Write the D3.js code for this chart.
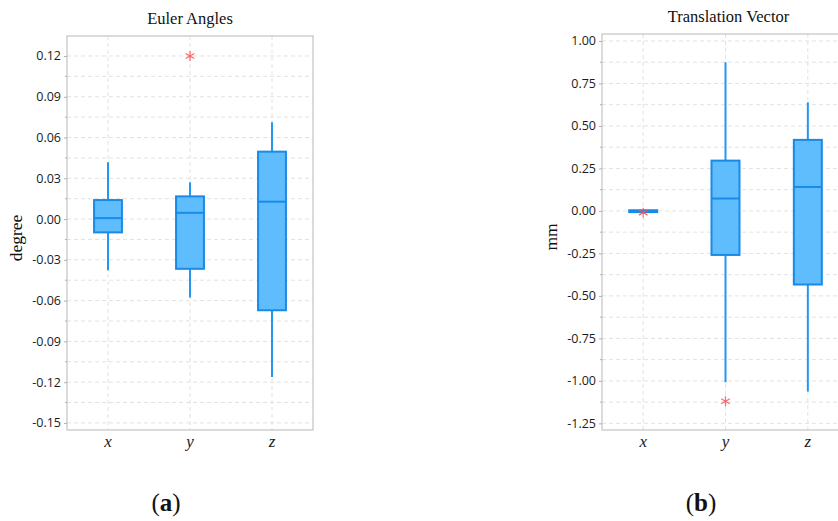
<!DOCTYPE html>
<html>
<head>
<meta charset="utf-8">
<script src="https://cdn.jsdelivr.net/npm/d3@7"></script>
<style>
  body { margin: 0; background: #fff; }
  svg { display: block; }
</style>
</head>
<body>
<svg id="chart" width="838" height="521"></svg>
<script>
// categories on both panels
const categories = ["x", "y", "z"];

// (a) Euler angles, degree
const eulerMin = [-0.0376, -0.0577, -0.1162];
const eulerQ1 = [-0.0098, -0.0366, -0.0671];
const eulerMedian = [0.0007, 0.0046, 0.0128];
const eulerQ3 = [0.0140, 0.0167, 0.0496];
const eulerMax = [0.0418, 0.0270, 0.0713];
const eulerOutliers = [[], [0.120], []];
const eulerTicks = [-0.15, -0.12, -0.09, -0.06, -0.03, 0.00, 0.03, 0.06, 0.09, 0.12];

// (b) translation vector, mm
const transMin = [-0.008, -1.008, -1.063];
const transQ1 = [-0.007, -0.259, -0.433];
const transMedian = [-0.002, 0.073, 0.141];
const transQ3 = [0.004, 0.296, 0.418];
const transMax = [0.006, 0.875, 0.639];
const transOutliers = [[-0.010], [-1.120], []];
const transTicks = [-1.25, -1.00, -0.75, -0.50, -0.25, 0.00, 0.25, 0.50, 0.75, 1.00];

const svg = d3.select("#chart");

const fmt = d => d3.format(".2f")(d).replace("\u2212", "-");

function drawPanel(cfg) {
  const g = svg.append("g");

  const x = d3.scaleBand()
    .domain(categories)
    .range([cfg.left, cfg.right]);

  const y = d3.scaleLinear()
    .domain(cfg.domain)
    .range([cfg.bottom, cfg.top]);

  const step = cfg.ticks[1] - cfg.ticks[0];
  const minor = cfg.ticks.map(t => t + step / 2)
    .filter(t => t <= cfg.domain[1]);

  // grid lines
  g.append("g").selectAll("line")
    .data(cfg.ticks.concat(minor))
    .join("line")
    .attr("x1", cfg.left).attr("x2", cfg.right)
    .attr("y1", d => y(d)).attr("y2", d => y(d))
    .attr("stroke", "#e2e2e2")
    .attr("stroke-dasharray", "4,3");

  g.append("g").selectAll("line")
    .data(categories)
    .join("line")
    .attr("x1", d => x(d) + x.bandwidth() / 2)
    .attr("x2", d => x(d) + x.bandwidth() / 2)
    .attr("y1", cfg.top).attr("y2", cfg.bottom)
    .attr("stroke", "#e2e2e2")
    .attr("stroke-dasharray", "4,3");

  // frame
  g.append("rect")
    .attr("x", cfg.left).attr("y", cfg.top)
    .attr("width", cfg.right - cfg.left)
    .attr("height", cfg.bottom - cfg.top)
    .attr("fill", "none")
    .attr("stroke", "#c8c8c8")
    .attr("stroke-width", 1.3);

  // y axis
  const yAxis = g.append("g")
    .attr("transform", "translate(" + cfg.left + ",0)")
    .call(d3.axisLeft(y).tickValues(cfg.ticks).tickFormat(fmt).tickSize(3).tickPadding(3));
  yAxis.select(".domain").remove();
  yAxis.selectAll("line").attr("stroke", "#b0b0b0");
  yAxis.selectAll("text")
    .attr("fill", "#1a1a1a")
    .style("font-family", "'Open Sans', sans-serif")
    .style("font-size", "12.5px");

  g.append("g").selectAll("line")
    .data(minor)
    .join("line")
    .attr("x1", cfg.left - 2).attr("x2", cfg.left)
    .attr("y1", d => y(d)).attr("y2", d => y(d))
    .attr("stroke", "#b0b0b0");

  // x axis labels
  const xAxis = g.append("g")
    .attr("transform", "translate(0," + cfg.bottom + ")")
    .call(d3.axisBottom(x).tickSize(0).tickPadding(5));
  xAxis.select(".domain").remove();
  xAxis.selectAll("text")
    .attr("fill", "#1a1a1a")
    .style("font-family", "'Liberation Serif', serif")
    .style("font-style", "italic")
    .style("font-size", "17px");

  // boxes
  const boxW = x.bandwidth() * 0.34;
  const boxes = g.append("g").selectAll("g")
    .data(categories.map((c, i) => ({
      c: c, min: cfg.min[i], q1: cfg.q1[i], med: cfg.median[i],
      q3: cfg.q3[i], max: cfg.max[i], out: cfg.outliers[i]
    })))
    .join("g")
    .attr("transform", d => "translate(" + (x(d.c) + x.bandwidth() / 2) + ",0)");

  boxes.append("line")
    .attr("y1", d => y(d.max)).attr("y2", d => y(d.q3))
    .attr("stroke", "#2196f3").attr("stroke-width", 2);
  boxes.append("line")
    .attr("y1", d => y(d.q1)).attr("y2", d => y(d.min))
    .attr("stroke", "#2196f3").attr("stroke-width", 2);

  boxes.append("rect")
    .attr("x", -boxW / 2)
    .attr("width", boxW)
    .attr("y", d => y(d.q3))
    .attr("height", d => Math.max(y(d.q1) - y(d.q3), 0.5))
    .attr("fill", "#5fbcfd")
    .attr("stroke", "#1a8ae8")
    .attr("stroke-width", 2);

  boxes.append("line")
    .attr("x1", -boxW / 2).attr("x2", boxW / 2)
    .attr("y1", d => y(d.med)).attr("y2", d => y(d.med))
    .attr("stroke", "#1a8ae8").attr("stroke-width", 2);

  boxes.selectAll("path")
    .data(d => d.out)
    .join("path")
    .attr("transform", d => "translate(0," + y(d) + ")")
    .attr("d", d3.symbol(d3.symbolAsterisk, 70))
    .attr("fill", "none")
    .attr("stroke", "#ff4d4d")
    .attr("stroke-opacity", 0.85)
    .attr("stroke-width", 1.2);

  // title and axis label
  svg.append("text")
    .attr("x", (cfg.left + cfg.titleRight) / 2)
    .attr("y", cfg.top - 12)
    .attr("text-anchor", "middle")
    .style("font-family", "'Liberation Serif', serif")
    .style("font-size", "16.5px")
    .attr("fill", "#111")
    .text(cfg.title);

  svg.append("text")
    .attr("transform", "translate(" + cfg.labelX + "," + ((cfg.top + cfg.bottom) / 2 + 5) + ") rotate(-90)")
    .attr("text-anchor", "middle")
    .style("font-family", "'Liberation Serif', serif")
    .style("font-size", "17.5px")
    .attr("fill", "#111")
    .text(cfg.label);

  svg.append("text")
    .attr("x", cfg.capX)
    .attr("y", 511)
    .attr("text-anchor", "middle")
    .style("font-family", "'Liberation Serif', serif")
    .style("font-size", "25px")
    .attr("fill", "#111")
    .html("(<tspan font-weight='bold'>" + cfg.cap + "</tspan>)");
}

drawPanel({
  left: 67, right: 313, top: 36, bottom: 430, titleRight: 313,
  domain: [-0.1552, 0.1347], ticks: eulerTicks,
  min: eulerMin, q1: eulerQ1, median: eulerMedian, q3: eulerQ3, max: eulerMax,
  outliers: eulerOutliers,
  title: "Euler Angles", label: "degree", labelX: 22, capX: 166, cap: "a"
});

drawPanel({
  left: 602, right: 849, top: 34, bottom: 430, titleRight: 855,
  domain: [-1.289, 1.041], ticks: transTicks,
  min: transMin, q1: transQ1, median: transMedian, q3: transQ3, max: transMax,
  outliers: transOutliers,
  title: "Translation Vector", label: "mm", labelX: 557, capX: 701, cap: "b"
});
</script>
</body>
</html>
